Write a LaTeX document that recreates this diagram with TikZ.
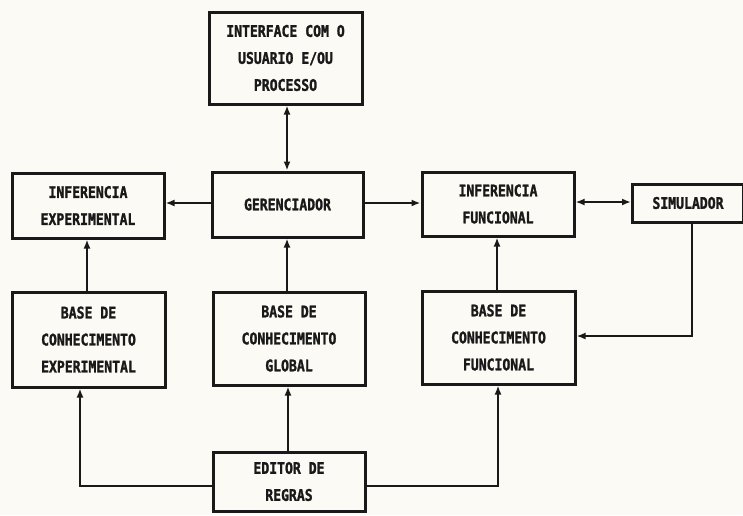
\documentclass[tikz,border=0pt]{standalone}
\usepackage{fontspec}
\usetikzlibrary{arrows.meta}
\newfontfamily\dotfont{DejaVu Sans Mono}[FakeStretch=0.82,FakeBold=1.5]
\definecolor{paper}{RGB}{251,250,244}
\definecolor{ink}{RGB}{25,25,25}
\begin{document}
\begin{tikzpicture}[x=1pt,y=-1pt,
  box/.style={draw=ink,line width=3pt,rectangle,align=center,inner sep=0pt,
    font=\dotfont\bfseries\fontsize{16}{27}\selectfont,text=ink},
  conn/.style={draw=ink,line width=2.1pt},
  tip/.style={-{Latex[length=9pt,width=7pt]}},
  both/.style={{Latex[length=9pt,width=7pt]}-{Latex[length=9pt,width=7pt]}}]
\fill[paper] (0,0) rectangle (743,515);
\useasboundingbox (0,0) rectangle (743,515);
% boxes
\node[box,minimum width=153pt,minimum height=92pt] (iface) at (285.5,58) {INTERFACE COM O\\USUARIO E/OU\\PROCESSO};
\node[box,minimum width=152pt,minimum height=65pt] (infexp) at (88,205.5) {INFERENCIA\\EXPERIMENTAL};
\node[box,minimum width=151pt,minimum height=65pt] (ger) at (287.5,204.5) {GERENCIADOR};
\node[box,minimum width=152pt,minimum height=64pt] (inffun) at (498,204) {INFERENCIA\\FUNCIONAL};
\node[box,minimum width=111pt,minimum height=38pt] (sim) at (688,203) {SIMULADOR};
\node[box,minimum width=153pt,minimum height=95pt] (bexp) at (88.5,339.5) {BASE DE\\CONHECIMENTO\\EXPERIMENTAL};
\node[box,minimum width=152pt,minimum height=93pt] (bglob) at (289,338.5) {BASE DE\\CONHECIMENTO\\GLOBAL};
\node[box,minimum width=153pt,minimum height=93pt] (bfun) at (498.5,337.5) {BASE DE\\CONHECIMENTO\\FUNCIONAL};
\node[box,minimum width=152pt,minimum height=59pt] (edit) at (289,481.5) {EDITOR DE\\REGRAS};
% connectors
\draw[conn,both] (iface.south -| 287,0) -- (ger.north -| 287,0);
\draw[conn,tip] (ger.west |- 0,203) -- (infexp.east |- 0,203);
\draw[conn,tip] (ger.east |- 0,203) -- (inffun.west |- 0,203);
\draw[conn,both] (inffun.east |- 0,202) -- (sim.west |- 0,202);
\draw[conn,tip] (bexp.north -| 87,0) -- (infexp.south -| 87,0);
\draw[conn,tip] (bglob.north -| 287,0) -- (ger.south -| 287,0);
\draw[conn,tip] (bfun.north -| 497,0) -- (inffun.south -| 497,0);
\coordinate (simcorner) at (692,336);
\draw[conn,tip] (sim.south -| simcorner) -- (simcorner) -- (bfun.east |- simcorner);
\coordinate (lcorner) at (80,486);
\coordinate (rcorner) at (498,486);
\draw[conn,tip] (edit.west |- lcorner) -- (lcorner) -- (bexp.south -| lcorner);
\draw[conn,tip] (edit.north -| 288,0) -- (bglob.south -| 288,0);
\draw[conn,tip] (edit.east |- rcorner) -- (rcorner) -- (bfun.south -| rcorner);
\end{tikzpicture}
\end{document}
